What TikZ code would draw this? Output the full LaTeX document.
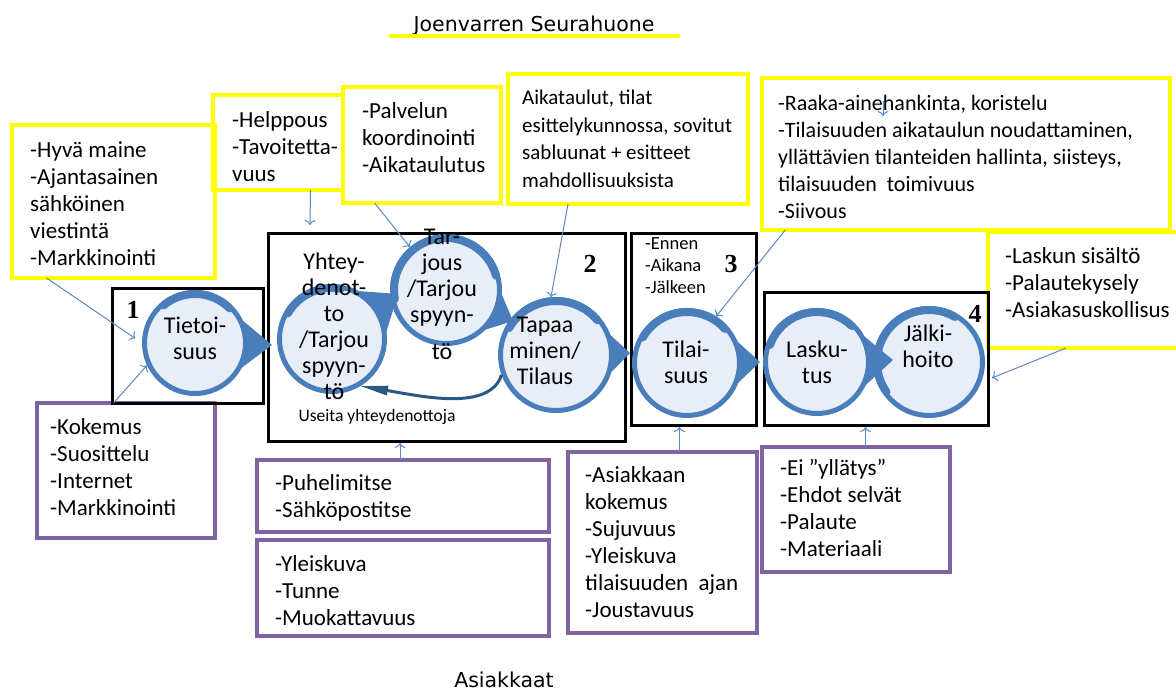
\documentclass[tikz,border=0pt]{standalone}
\usepackage{fontspec}
\setmainfont{Carlito}
\newfontfamily\headfont{DejaVu Sans}
\newfontfamily\numfont{Liberation Serif}
\usepackage{tikz}
\usetikzlibrary{arrows.meta,calc}

\definecolor{boxyellow}{HTML}{FFFF00}
\definecolor{boxpurple}{HTML}{8064A2}
\definecolor{ringblue}{HTML}{4A7EBB}
\definecolor{ringfill}{HTML}{E8EEF7}
\definecolor{feedblue}{HTML}{5A8AC6}
\definecolor{loopblue}{HTML}{2B5785}

\begin{document}
\begin{tikzpicture}[x=1pt,y=-1pt]
    \tikzstyle{yellowbox}=[draw=boxyellow,line width=4pt,anchor=north west,inner sep=0pt,outer sep=0pt]
    \tikzstyle{purplebox}=[draw=boxpurple,line width=4pt,anchor=north west,inner sep=0pt,outer sep=0pt]
    \tikzstyle{blackbox}=[draw=black,line width=3pt,anchor=north west,inner sep=0pt,outer sep=0pt]
    \tikzstyle{boxtext}=[anchor=west,align=left,inner sep=0pt,font=\fontsize{23}{27}\selectfont]
    \tikzstyle{phase}=[circle,draw=ringblue,line width=5pt,fill=ringfill,inner sep=0pt]
    \tikzstyle{phasetext}=[align=center,inner sep=0pt,font=\fontsize{24}{26}\selectfont]
    \tikzstyle{wedge}=[fill=ringblue]
    \tikzstyle{thickring}=[draw=ringblue,line width=8pt,line cap=round]
    \tikzstyle{phasenum}=[font=\numfont\bfseries\fontsize{26}{26}\selectfont]
    \tikzstyle{feed}=[draw=feedblue,line width=1pt,-{To[length=5pt,width=11pt]}]
    \tikzstyle{loopback}=[draw=loopblue,line width=3pt,-{Triangle[length=28pt,width=9pt]}]

    \useasboundingbox (0,0) rectangle (1176,693);

    \node[font=\headfont\fontsize{20.5}{24}\selectfont] (otsikko) at (534,26) {Joenvarren Seurahuone};
    \draw[boxyellow,line width=4pt] (389,36) -- (680,36);
    \node[font=\headfont\fontsize{20.5}{24}\selectfont] (asiakkaat) at (504,680) {Asiakkaat};

    \node[yellowbox,minimum width=203pt,minimum height=153pt] (hyva) at (12,125) {};
    \node[yellowbox,minimum width=130pt,minimum height=95pt] (helppo) at (213,95) {};
    \node[yellowbox,minimum width=158pt,minimum height=116pt] (palv) at (343,87) {};
    \node[yellowbox,minimum width=240pt,minimum height=130pt] (aika) at (508,74) {};
    \node[yellowbox,minimum width=408pt,minimum height=152pt] (raaka) at (762,78) {};
    \node[yellowbox,minimum width=200pt,minimum height=116pt] (sisalto) at (988,232) {};

    \node[boxtext] (hyvatext) at (30,204) {-Hyvä maine\\-Ajantasainen\\sähköinen\\viestintä\\-Markkinointi};
    \node[boxtext] (helpptext) at (232,147) {-Helppous\\-Tavoitetta-\\vuus};
    \node[boxtext] (palvtext) at (362,138) {-Palvelun\\koordinointi\\-Aikataulutus};
    \node[boxtext,font=\fontsize{21}{27.5}\selectfont] (aikatext) at (522,139) {Aikataulut, tilat\\esittelykunnossa, sovitut\\sabluunat + esitteet\\mahdollisuuksista};
    \node[boxtext,font=\fontsize{22}{27}\selectfont] (raakatext) at (778,157) {-Raaka-ainehankinta, koristelu\\-Tilaisuuden aikataulun noudattaminen,\\yllättävien tilanteiden hallinta, siisteys,\\tilaisuuden\ \ toimivuus\\-Siivous};
    \node[boxtext] (sisaltotext) at (1005,283) {-Laskun sisältö\\-Palautekysely\\-Asiakasuskollisus};

    \node[purplebox,minimum width=178pt,minimum height=135pt] (kok) at (37,403) {};
    \node[purplebox,minimum width=292pt,minimum height=72pt] (puhe) at (257,460) {};
    \node[purplebox,minimum width=292pt,minimum height=96pt] (yleis) at (257,540) {};
    \node[purplebox,minimum width=189pt,minimum height=181pt] (asiak) at (568,452) {};
    \node[purplebox,minimum width=188pt,minimum height=125pt] (ehdot) at (762,447) {};

    \node[boxtext] (koktext) at (50,467) {-Kokemus\\-Suosittelu\\-Internet\\-Markkinointi};
    \node[boxtext] (puhetext) at (275,498) {-Puhelimitse\\-Sähköpostitse};
    \node[boxtext] (yleistext) at (275,591) {-Yleiskuva\\-Tunne\\-Muokattavuus};
    \node[boxtext] (asiaktext) at (585,542) {-Asiakkaan\\kokemus\\-Sujuvuus\\-Yleiskuva\\tilaisuuden\ \ ajan\\-Joustavuus};
    \node[boxtext] (ehdottext) at (780,508) {-Ei ”yllätys”\\-Ehdot selvät\\-Palaute\\-Materiaali};

    \node[blackbox,minimum width=151pt,minimum height=115pt] (vaihe1) at (112,288) {};
    \node[blackbox,minimum width=357pt,minimum height=208pt] (vaihe2) at (268,233) {};
    \node[blackbox,minimum width=125pt,minimum height=192pt] (vaihe3) at (631,233) {};
    \node[blackbox,minimum width=224pt,minimum height=133pt] (vaihe4) at (764,292) {};

    \node[phasenum] (num1) at (133,310) {1};
    \node[phasenum] (num2) at (590,264) {2};
    \node[phasenum] (num3) at (731,264) {3};
    \node[phasenum] (num4) at (975,314) {4};
    \node[boxtext,font=\fontsize{18.5}{22}\selectfont] (ajat) at (645,266) {-Ennen\\-Aikana\\-Jälkeen};

    \coordinate (c1) at (195,343);
    \coordinate (c2) at (332,339);
    \coordinate (c3) at (446,290);
    \coordinate (c4) at (556,355);
    \coordinate (c5) at (687,363);
    \coordinate (c6) at (817,362);
    \coordinate (c7) at (929,362);

    \node[phase,minimum size=107pt] (jalki) at (c7) {};
    \draw[thickring] ($(c7)+(215:52pt)$) arc[start angle=215,end angle=60,radius=52pt];
    \fill[wedge] ($(c6)+(46:50pt)$) -- (893,360) -- ($(c6)+(-43:50pt)$) -- cycle;
    \node[phase,minimum size=103pt] (lasku) at (c6) {};
    \draw[thickring] ($(c6)+(160:50pt)$) arc[start angle=160,end angle=46,radius=50pt];
    \fill[wedge] ($(c5)+(42:50pt)$) -- (760,362) -- ($(c5)+(-40:50pt)$) -- cycle;
    \node[phase,minimum size=105pt] (tilai) at (c5) {};
    \draw[thickring] ($(c5)+(150:51pt)$) arc[start angle=150,end angle=42,radius=51pt];
    \fill[wedge] ($(c4)+(40:52pt)$) -- (630,353) -- ($(c4)+(-37:52pt)$) -- cycle;
    \node[phase,minimum size=111pt] (tapa) at (c4) {};
    \draw[thickring] ($(c4)+(150:54pt)$) arc[start angle=150,end angle=40,radius=54pt];
    \fill[wedge] ($(c3)+(16:50pt)$) -- (513,321) -- ($(c3)+(-66:50pt)$) -- cycle;
    \node[phase,minimum size=107pt] (tarj) at (c3) {};
    \draw[thickring] ($(c3)+(190:52pt)$) arc[start angle=190,end angle=16,radius=52pt];
    \fill[wedge] ($(c2)+(80:50pt)$) -- (398,294) -- ($(c2)+(-13:50pt)$) -- cycle;
    \node[phase,minimum size=105pt] (yht) at (c2) {};
    \draw[thickring] ($(c2)+(150:51pt)$) arc[start angle=150,end angle=80,radius=51pt];
    \fill[wedge] ($(c1)+(45:48pt)$) -- (272,345) -- ($(c1)+(-48:48pt)$) -- cycle;
    \node[phase,minimum size=101pt] (tiet) at (c1) {};
    \draw[thickring] ($(c1)+(130:49pt)$) arc[start angle=130,end angle=45,radius=49pt];

    \node[phasetext] (tiettext) at (195,338) {Tietoi-\\suus};
    \node[phasetext] (yhttext) at (334,326) {Yhtey-\\denot-\\to\\/Tarjou\\spyyn-\\tö};
    \node[phasetext] (tarjtext) at (442,294) {Tar-\\jous\\/Tarjou\\spyyn-\\[11pt]tö};
    \node[phasetext] (tapatext) at (545,351) {Tapaa\\minen/\\Tilaus};
    \node[phasetext] (tilaitext) at (686,362) {Tilai-\\suus};
    \node[phasetext] (laskutext) at (817,362) {Lasku-\\tus};
    \node[phasetext] (jalkitext) at (928,346) {Jälki-\\hoito};

    \node[font=\fontsize{17.5}{20}\selectfont] (useita) at (377,417) {Useita yhteydenottoja};
    \draw[loopback] (tapa.200) .. controls (490,412) and (420,396) .. (360,386);

    \draw[feed,shorten >=8pt] ($(hyva.south west)!0.17!(hyva.south east)$) -- (tiet.west);
    \draw[feed] ($(kok.north west)!0.43!(kok.north east)$) -- (tiet.205);
    \coordinate (helppoend) at (310,225);
    \draw[feed] ($(helppo.south west)!0.75!(helppo.south east)$) -- (helppoend);
    \draw[feed] ($(palv.south west)!0.2!(palv.south east)$) -- (tarj.130);
    \draw[feed] ($(aika.south west)!0.25!(aika.south east)$) -- (tapa.95);
    \draw[feed] ($(raaka.south west)!0.057!(raaka.south east)$) -- (tilai.58);
    \coordinate (raakamark) at (883,101);
    \draw[feed] (raakamark) -- ++(0,15);
    \coordinate (jalkiend) at (992,378);
    \draw[feed] ($(sisalto.south west)!0.39!(sisalto.south east)$) -- (jalkiend);
    \coordinate (puhetop) at ($(puhe.north west)!0.49!(puhe.north east)$);
    \draw[feed,shorten >=2pt] (puhetop) -- (puhetop |- vaihe2.south);
    \coordinate (asiaktop) at ($(asiak.north west)!0.59!(asiak.north east)$);
    \draw[feed,shorten >=2pt] (asiaktop) -- (asiaktop |- vaihe3.south);
    \coordinate (ehdottop) at ($(ehdot.north west)!0.55!(ehdot.north east)$);
    \draw[feed,shorten >=2pt] (ehdottop) -- (ehdottop |- vaihe4.south);
\end{tikzpicture}
\end{document}
